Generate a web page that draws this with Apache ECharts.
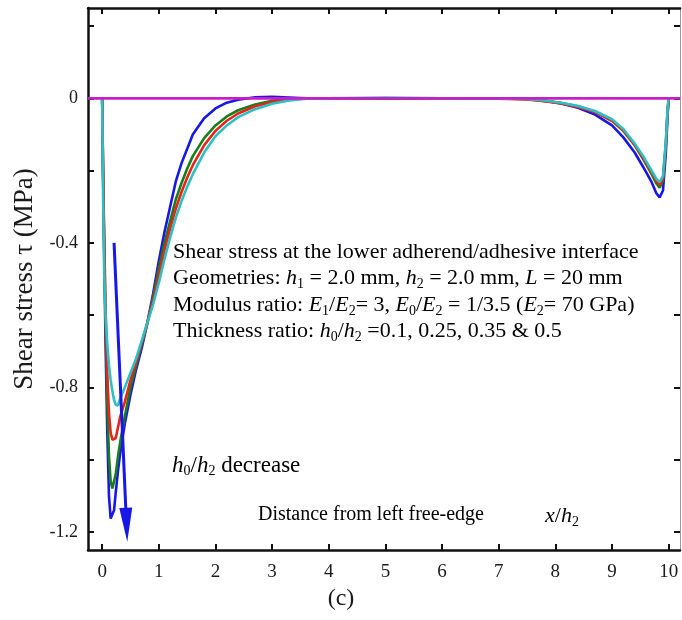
<!DOCTYPE html>
<html lang="en">

<head>
  <meta charset="UTF-8">
  <title>Shear stress (c)</title>
  <script src="https://cdn.jsdelivr.net/npm/echarts@6/dist/echarts.min.js"></script>
  <style>
    html, body { margin: 0; padding: 0; background: #fff; }
    #main { width: 682px; height: 620px; }
  </style>
</head>

<body>
  <div id="main"></div>
  <script>
    // x/h2 sample positions (shared by all curves)
    const xPos = [0, 0.015, 0.035, 0.06, 0.09, 0.12, 0.15, 0.18, 0.21, 0.24, 0.28, 0.32, 0.4, 0.5, 0.6, 0.7, 0.8, 0.9,
      1.0, 1.1, 1.2, 1.3, 1.4, 1.5, 1.6, 1.8, 2.0, 2.2, 2.4, 2.7, 3.0, 3.3, 3.6, 4.0, 5.0, 6.0, 7.0, 7.5, 7.8, 8.1,
      8.4, 8.7, 9.0, 9.2, 9.4, 9.55, 9.7, 9.78, 9.84, 9.9, 9.95, 9.98, 10.0]

    // shear stress (MPa), h0/h2 = 0.1, 0.25, 0.35, 0.5
    const blue = [0, -0.2, -0.42, -0.68, -0.92, -1.1, -1.163, -1.165, -1.14, -1.09, -1.03, -0.98, -0.9, -0.82, -0.75, -0.69, -0.62, -0.54,
      -0.45, -0.37, -0.3, -0.23, -0.18, -0.14, -0.1, -0.055, -0.028, -0.012, -0.004, 0.003, 0.004, 0.002, 0, 0, 0, 0, 0, -0.002, -0.006, -0.014,
      -0.026, -0.045, -0.075, -0.108, -0.15, -0.19, -0.232, -0.262, -0.274, -0.255, -0.15, -0.05, 0]
    const green = [0, -0.19, -0.4, -0.62, -0.84, -0.99, -1.06, -1.08, -1.075, -1.04, -0.99, -0.95, -0.88, -0.8, -0.74, -0.68, -0.62, -0.55,
      -0.47, -0.4, -0.34, -0.28, -0.235, -0.195, -0.16, -0.11, -0.075, -0.05, -0.033, -0.017, -0.007, -0.002, 0, 0, 0, 0, 0, -0.002, -0.007, -0.013,
      -0.022, -0.037, -0.062, -0.09, -0.13, -0.168, -0.21, -0.235, -0.247, -0.228, -0.13, -0.04, 0]
    const red = [0, -0.18, -0.38, -0.58, -0.76, -0.87, -0.925, -0.945, -0.95, -0.94, -0.91, -0.88, -0.84, -0.78, -0.73, -0.675, -0.62, -0.56,
      -0.49, -0.42, -0.36, -0.305, -0.26, -0.22, -0.185, -0.13, -0.09, -0.062, -0.042, -0.022, -0.01, -0.004, 0, 0, 0, 0, -0.001, -0.003, -0.008, -0.014,
      -0.024, -0.038, -0.062, -0.088, -0.128, -0.165, -0.205, -0.228, -0.24, -0.222, -0.125, -0.035, 0]
    const cyan = [0, -0.25, -0.48, -0.6, -0.68, -0.74, -0.78, -0.81, -0.835, -0.848, -0.85, -0.83, -0.8, -0.76, -0.72, -0.67, -0.62, -0.57,
      -0.51, -0.445, -0.385, -0.33, -0.285, -0.245, -0.21, -0.15, -0.105, -0.075, -0.052, -0.03, -0.015, -0.006, -0.001, 0, 0.002, 0, 0, -0.002, -0.006, -0.012,
      -0.021, -0.035, -0.058, -0.085, -0.125, -0.16, -0.2, -0.222, -0.232, -0.215, -0.12, -0.03, 0]

    // zero reference line
    const zeroX = [-0.25, 10.2]
    const zeroY = [0, 0]

    // axis ticks and labels
    const xTicks = [0, 1, 2, 3, 4, 5, 6, 7, 8, 9, 10]
    const yTicks = [0.2, 0, -0.2, -0.4, -0.6, -0.8, -1.0, -1.2]
    const yLabels = [0, -0.4, -0.8, -1.2]

    const serif = 'Liberation Serif'
    const pair = (xs, ys) => xs.map((x, i) => [x, ys[i]])

    const ink = '#1a1a1a'
    const rich = {
      n: { fontFamily: serif, fontSize: 22, color: ink, lineHeight: 26.5 },
      i: { fontFamily: serif, fontSize: 22, color: ink, lineHeight: 26.5, fontStyle: 'italic' },
      s: { fontFamily: serif, fontSize: 14, color: ink, lineHeight: 16, verticalAlign: 'bottom' },
      m: { fontFamily: serif, fontSize: 20, color: ink, lineHeight: 26.5 },
      d: { fontFamily: serif, fontSize: 23, color: ink, lineHeight: 26.5 },
      di: { fontFamily: serif, fontSize: 23, color: ink, lineHeight: 26.5, fontStyle: 'italic' }
    }

    const tickStyle = { show: true, inside: true, length: 6, lineStyle: { color: '#111', width: 2 } }

    let myChart = echarts.init(document.querySelector('#main'))

    let option = {
      animation: false,
      grid: { left: 88, top: 8, width: 592, height: 542 },
      xAxis: [
        {
          type: 'value', min: -0.25, max: 10.2, position: 'bottom',
          axisLine: { onZero: false, lineStyle: { color: '#111', width: 2.5 } },
          axisTick: Object.assign({ customValues: xTicks }, tickStyle),
          axisLabel: { customValues: xTicks, fontFamily: serif, fontSize: 19, color: ink, margin: 13 },
          splitLine: { show: false }
        },
        {
          type: 'value', min: -0.25, max: 10.2, position: 'top',
          axisLine: { onZero: false, lineStyle: { color: '#111', width: 2.5 } },
          axisTick: Object.assign({ customValues: xTicks }, tickStyle),
          axisLabel: { show: false },
          splitLine: { show: false }
        }
      ],
      yAxis: [
        {
          type: 'value', min: -1.25, max: 0.25, position: 'left',
          name: 'Shear stress τ (MPa)', nameLocation: 'middle', nameGap: 46,
          nameTextStyle: { fontFamily: serif, fontSize: 27, color: ink },
          axisLine: { onZero: false, lineStyle: { color: '#111', width: 2.5 } },
          axisTick: Object.assign({ customValues: yTicks }, tickStyle),
          axisLabel: {
            customValues: yLabels, fontFamily: serif, fontSize: 18, color: ink, margin: 10,
            formatter: v => (v === 0 ? '0' : v.toFixed(1))
          },
          splitLine: { show: false }
        },
        {
          type: 'value', min: -1.25, max: 0.25, position: 'right',
          axisLine: { onZero: false, lineStyle: { color: '#999', width: 1 } },
          axisTick: Object.assign({ customValues: yTicks }, tickStyle),
          axisLabel: { show: false },
          splitLine: { show: false }
        }
      ],
      series: [
        {
          name: '0.1', type: 'line', data: pair(xPos, blue), showSymbol: false,
          lineStyle: { color: '#1818e6', width: 2.6 },
          markLine: {
            silent: true, symbol: ['none', 'triangle'], symbolSize: [13, 34],
            lineStyle: { color: '#1818e6', width: 3, type: 'solid' },
            itemStyle: { color: '#1818e6' },
            label: { show: false },
            data: [[{ coord: [0.21, -0.4] }, { coord: [0.43, -1.18] }]]
          }
        },
        { name: '0.25', type: 'line', data: pair(xPos, green), showSymbol: false, lineStyle: { color: '#1a7d1a', width: 2.6 } },
        { name: '0.35', type: 'line', data: pair(xPos, red), showSymbol: false, lineStyle: { color: '#e62418', width: 2.6 } },
        { name: '0.5', type: 'line', data: pair(xPos, cyan), showSymbol: false, lineStyle: { color: '#2cc0c4', width: 2.6 } },
        { name: 'zero', type: 'line', data: pair(zeroX, zeroY), showSymbol: false, lineStyle: { color: '#c81ec8', width: 2.6 } }
      ],
      graphic: [
        {
          type: 'text', left: 173, top: 241,
          style: {
            rich: rich,
            text: [
              '{n|Shear stress at the lower adherend/adhesive interface}',
              '{n|Geometries: }{i|h}{s|1}{n| = 2.0 mm, }{i|h}{s|2}{n| = 2.0 mm, }{i|L}{n| = 20 mm}',
              '{n|Modulus ratio: }{i|E}{s|1}{n|/}{i|E}{s|2}{n|= 3, }{i|E}{s|0}{n|/}{i|E}{s|2}{n| = 1/3.5 (}{i|E}{s|2}{n|= 70 GPa)}',
              '{n|Thickness ratio: }{i|h}{s|0}{n|/}{i|h}{s|2}{n| =0.1, 0.25, 0.35 & 0.5}'
            ].join('\n')
          }
        },
        {
          type: 'text', left: 172, top: 454,
          style: { rich: rich, text: '{di|h}{s|0}{d|/}{di|h}{s|2}{d| decrease}' }
        },
        {
          type: 'text', left: 258, top: 505,
          style: { rich: rich, text: '{m|Distance from left free-edge}' }
        },
        {
          type: 'text', left: 545, top: 505,
          style: { rich: rich, text: '{i|x}{n|/}{i|h}{s|2}' }
        },
        {
          type: 'text', left: 'center', top: 587,
          style: { text: '(c)', fontFamily: serif, fontSize: 24, fill: ink }
        }
      ]
    };

    myChart.setOption(option);
  </script>
</body>

</html>
